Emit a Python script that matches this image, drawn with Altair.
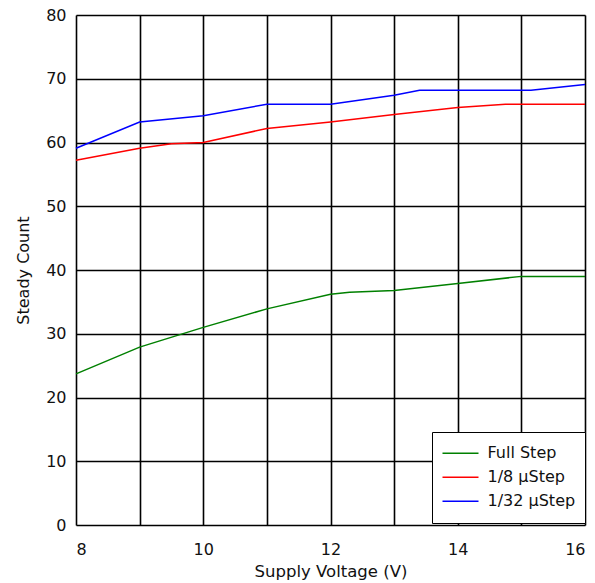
import altair as alt
import pandas as pd

# Steady count versus supply voltage for three stepping modes
full_x = [8, 9, 10, 11, 12, 12.3, 13, 14, 15, 16]
full_y = [23.7, 27.9, 31.0, 33.9, 36.2, 36.5, 36.8, 37.9, 39.0, 39.0]

eighth_x = [8, 9, 9.5, 10, 11, 12, 13, 14, 14.75, 16]
eighth_y = [57.2, 59.1, 59.8, 60.0, 62.2, 63.2, 64.4, 65.5, 66.0, 66.0]

thirtysecond_x = [8, 9, 10, 11, 12, 13, 13.4, 15.15, 16]
thirtysecond_y = [59.1, 63.2, 64.2, 66.0, 66.0, 67.4, 68.2, 68.2, 69.1]

series_names = ["Full Step", "1/8 \u00b5Step", "1/32 \u00b5Step"]
series_colors = ["#008000", "#ff0000", "#0000ff"]

x_ticks = [8, 9, 10, 11, 12, 13, 14, 15, 16]
y_ticks = [0, 10, 20, 30, 40, 50, 60, 70, 80]

rows = []
for name, xs, ys in zip(series_names,
                        [full_x, eighth_x, thirtysecond_x],
                        [full_y, eighth_y, thirtysecond_y]):
    for i, (x, y) in enumerate(zip(xs, ys)):
        rows.append({"series": name, "voltage": x, "count": y, "order": i})
df = pd.DataFrame(rows)

FONT = "DejaVu Sans"
TEXT = "#111111"

chart = (
    alt.Chart(df)
    .mark_line(strokeWidth=1.5)
    .encode(
        x=alt.X(
            "voltage:Q",
            scale=alt.Scale(domain=[8, 16], nice=False),
            axis=alt.Axis(
                title="Supply Voltage (V)",
                values=x_ticks,
                labelExpr="datum.value % 2 == 0 ? datum.label : ''",
                grid=True,
                gridColor="#000000",
                gridWidth=1.6,
                gridOpacity=1,
                ticks=False,
                domain=False,
                labelPadding=16,
                titlePadding=6,
                labelFontSize=16,
                titleFontSize=16.5,
                labelFont=FONT,
                titleFont=FONT,
                labelColor=TEXT,
                titleColor=TEXT,
                titleFontWeight="normal",
            ),
        ),
        y=alt.Y(
            "count:Q",
            scale=alt.Scale(domain=[0, 80], nice=False),
            axis=alt.Axis(
                title="Steady Count",
                values=y_ticks,
                grid=True,
                gridColor="#000000",
                gridWidth=1.6,
                gridOpacity=1,
                ticks=False,
                domain=False,
                labelPadding=10,
                titlePadding=14,
                labelFontSize=16,
                titleFontSize=16,
                labelFont=FONT,
                titleFont=FONT,
                labelColor=TEXT,
                titleColor=TEXT,
                titleFontWeight="normal",
            ),
        ),
        color=alt.Color(
            "series:N",
            scale=alt.Scale(domain=series_names, range=series_colors),
            legend=alt.Legend(
                title=None,
                orient="none",
                legendX=356,
                legendY=417,
                direction="vertical",
                symbolType="stroke",
                symbolSize=1296,
                symbolStrokeWidth=1.5,
                labelFont=FONT,
                labelFontSize=16,
                labelColor=TEXT,
                strokeColor="#000000",
                fillColor="#ffffff",
                padding=9.5,
                rowPadding=0,
                clipHeight=23.5,
                labelOffset=8,
            ),
        ),
        order="order:Q",
    )
    .properties(
        width=509,
        height=510,
        autosize=alt.AutoSizeParams(type="none"),
        padding={"left": 76, "top": 15, "right": 10, "bottom": 58},
    )
    .configure_view(stroke="#000000", strokeWidth=2)
    .configure(background="#ffffff")
)

chart.save("out.html", embed_options={"renderer": "svg", "actions": False})
